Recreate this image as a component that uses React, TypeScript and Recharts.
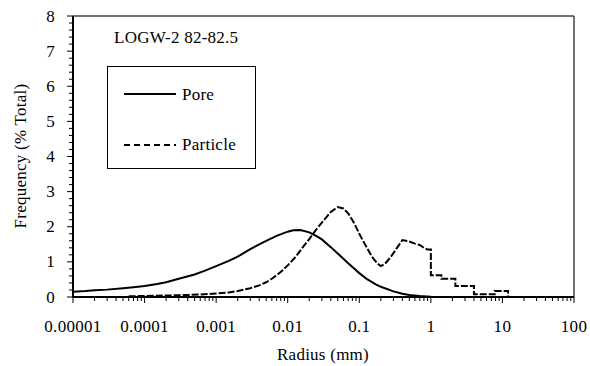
import React from 'react';
import { Legend, Line, LineChart, ReferenceLine, XAxis, YAxis } from 'recharts';

// radius (mm) and frequency (% total)
const poreRadius = [
  0.00001, 0.000015, 0.00002, 0.00003, 0.00005, 0.00007, 0.0001, 0.00015, 0.0002, 0.0003, 0.0005, 0.0007, 0.001,
  0.0015, 0.002, 0.003, 0.004, 0.005, 0.007, 0.01, 0.012, 0.015, 0.02, 0.025, 0.03, 0.04, 0.05, 0.07, 0.1, 0.13,
  0.17, 0.2, 0.3, 0.4, 0.5, 0.7, 1, 2, 45,
];
const poreFreq = [
  0.15, 0.17, 0.19, 0.21, 0.25, 0.28, 0.31, 0.37, 0.42, 0.52, 0.64, 0.75, 0.88, 1.03, 1.15, 1.36, 1.5, 1.6, 1.74,
  1.86, 1.9, 1.91, 1.84, 1.74, 1.64, 1.42, 1.24, 0.96, 0.68, 0.5, 0.36, 0.29, 0.16, 0.09, 0.06, 0.03, 0.01, 0, 0,
];

const particleRadius = [
  0.00006, 0.0001, 0.0003, 0.0006, 0.001, 0.0015, 0.002, 0.003, 0.004, 0.005, 0.006, 0.007, 0.0085, 0.01, 0.013,
  0.016, 0.02, 0.025, 0.03, 0.04, 0.05, 0.06, 0.07, 0.085, 0.1, 0.12, 0.15, 0.18, 0.2, 0.23, 0.27, 0.3, 0.35, 0.4,
  0.5, 0.6, 0.7, 0.8, 0.9, 1, 1, 1.4, 1.4, 2.2, 2.2, 4, 4, 7.8, 7.8, 12, 12, 45,
];
const particleFreq = [
  0.02, 0.03, 0.05, 0.07, 0.1, 0.13, 0.17, 0.25, 0.33, 0.42, 0.52, 0.62, 0.76, 0.9, 1.15, 1.4, 1.65, 1.92, 2.12,
  2.42, 2.56, 2.52, 2.38, 2.1, 1.8, 1.5, 1.15, 0.95, 0.88, 0.95, 1.12, 1.25, 1.45, 1.62, 1.58, 1.52, 1.48, 1.4,
  1.35, 1.35, 0.62, 0.62, 0.52, 0.52, 0.31, 0.31, 0.08, 0.08, 0.17, 0.17, 0, 0,
];

const xMajorTicks = [0.00001, 0.0001, 0.001, 0.01, 0.1, 1, 10, 100];
const xMinorSteps = [2, 3, 4, 5, 6, 7, 8, 9];
const yMajorTicks = [0, 1, 2, 3, 4, 5, 6, 7, 8];

const poreData = poreRadius.map((r, i) => ({ radius: r, freq: poreFreq[i] }));
const particleData = particleRadius.map((r, i) => ({ radius: r, freq: particleFreq[i] }));

const xTicks = [
  ...xMajorTicks,
  ...xMajorTicks.slice(0, -1).flatMap((d) => xMinorSteps.map((m) => m * d)),
].sort((a, b) => a - b);
const yTicks = Array.from({ length: 41 }, (_, i) => i / 5);

const FONT = 'Liberation Serif';
const textStyle = { fontFamily: FONT, fontSize: 17, fill: '#000', letterSpacing: 0.25 };
const tickStyle = { ...textStyle, letterSpacing: 0.3 };

const XTick = (props: any) => {
  const { x, y, payload } = props;
  const v = payload.value;
  const major = xMajorTicks.includes(v);
  return (
    <g>
      <line x1={x} x2={x} y1={y} y2={y + (major ? 6 : 4)} stroke="#000" strokeWidth={1} />
      {major && (
        <text x={x} y={y + 35} textAnchor="middle" fontFamily={FONT} style={tickStyle}>
          {String(v)}
        </text>
      )}
    </g>
  );
};

const YTick = (props: any) => {
  const { x, y, payload } = props;
  const v = payload.value;
  const major = yMajorTicks.includes(v);
  return (
    <g>
      <line x1={x - (major ? 6 : 4)} x2={x} y1={y} y2={y} stroke="#000" strokeWidth={1} />
      {major && (
        <text x={x - 18} y={y + 5.5} textAnchor="end" fontFamily={FONT} style={tickStyle}>
          {v}
        </text>
      )}
    </g>
  );
};

const LegendBox = () => (
  <div
    style={{
      width: 147,
      height: 101,
      border: '1px solid #000',
      background: '#fff',
      position: 'relative',
    }}
  >
    <svg width={147} height={101} style={{ position: 'absolute', left: 0, top: 0 }}>
      <line x1={16} x2={68} y1={27} y2={27} stroke="#000" strokeWidth={2} />
      <text x={74} y={33} fontFamily={FONT} style={textStyle}>
        Pore
      </text>
      <line x1={16} x2={68} y1={78} y2={78} stroke="#000" strokeWidth={2} strokeDasharray="6 4" />
      <text x={74} y={83} fontFamily={FONT} style={textStyle}>
        Particle
      </text>
    </svg>
  </div>
);

export default function App() {
  return (
    <div style={{ position: 'absolute', left: 0, top: 0, width: 590, height: 366, background: '#fff' }}>
      <LineChart width={590} height={366} margin={{ top: 16, right: 16, bottom: 0, left: 0 }}>
        <XAxis
          dataKey="radius"
          type="number"
          scale="log"
          domain={[0.00001, 100]}
          allowDataOverflow
          ticks={xTicks}
          interval={0}
          tick={<XTick />}
          tickLine={false}
          tickSize={0}
          tickMargin={0}
          height={69}
          axisLine={{ stroke: '#000', strokeWidth: 2 }}
        />
        <YAxis
          type="number"
          domain={[0, 8]}
          ticks={yTicks}
          interval={0}
          tick={<YTick />}
          tickLine={false}
          tickSize={0}
          tickMargin={0}
          width={73}
          axisLine={{ stroke: '#000', strokeWidth: 2 }}
        />
        <ReferenceLine y={8} stroke="#444" strokeWidth={1.5} />
        <ReferenceLine x={100} stroke="#444" strokeWidth={1.5} />
        <Line
          data={poreData}
          dataKey="freq"
          type="linear"
          stroke="#000"
          strokeWidth={2}
          dot={false}
          isAnimationActive={false}
          name="Pore"
        />
        <Line
          data={particleData}
          dataKey="freq"
          type="linear"
          stroke="#000"
          strokeWidth={2}
          strokeDasharray="7 2"
          dot={false}
          isAnimationActive={false}
          name="Particle"
        />
        <Legend
          layout="horizontal"
          verticalAlign="middle"
          align="center"
          content={<LegendBox />}
          wrapperStyle={{ position: 'absolute', left: 107, top: 66, width: 149, height: 103 }}
        />
        <text x={114} y={43} fontFamily={FONT} style={textStyle}>
          LOGW-2 82-82.5
        </text>
        <text x={323} y={360} textAnchor="middle" fontFamily={FONT} style={textStyle}>
          Radius (mm)
        </text>
        <text x={26} y={156} textAnchor="middle" transform="rotate(-90 26 156)" fontFamily={FONT} style={textStyle}>
          Frequency (% Total)
        </text>
      </LineChart>
    </div>
  );
}
